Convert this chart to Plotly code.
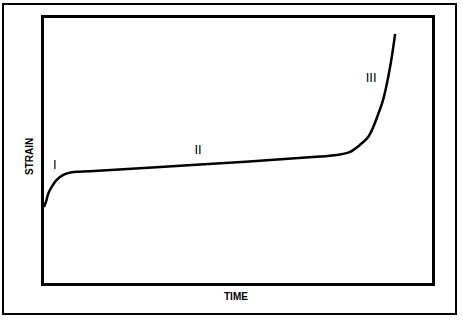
import plotly.graph_objects as go

# Points (time, strain) in percent of axis range
time = [0.0, 0.52, 1.11, 1.98, 3.27, 4.97, 7.14, 9.28, 11.86, 40.2, 71.1,
        75.4, 78.9, 81.4, 83.6, 84.9, 86.2, 87.4, 89.2, 90.5]
strain = [28.7, 30.7, 33.8, 36.3, 38.9, 40.8, 41.8, 42.0, 42.2, 44.7, 47.7,
          48.3, 49.5, 52.1, 55.2, 59.0, 64.0, 69.1, 81.5, 94.0]

stage_labels = ["I", "II", "III"]
stage_x = [2.8, 39.7, 84.3]
stage_y = [44.2, 49.8, 77.0]

fig = go.Figure()
fig.add_trace(go.Scatter(
    x=time, y=strain, mode="lines",
    line=dict(color="black", width=2.5, shape="spline", smoothing=1.0),
    hoverinfo="skip", showlegend=False,
))
fig.add_trace(go.Scatter(
    x=stage_x, y=stage_y, mode="text", text=stage_labels,
    textfont=dict(family="Liberation Sans", size=13, color="black"),
    hoverinfo="skip", showlegend=False,
))

axis_common = dict(
    showgrid=False, zeroline=False, showticklabels=False, ticks="",
    showline=True, linecolor="black", linewidth=3, mirror=True,
    range=[0, 100], fixedrange=True,
)
fig.update_xaxes(**axis_common)
fig.update_yaxes(**axis_common)

fig.update_layout(
    width=463, height=320,
    margin=dict(l=44, r=31, t=18, b=37),
    plot_bgcolor="white", paper_bgcolor="white",
    shapes=[dict(type="rect", xref="paper", yref="paper",
                 x0=-41/388, x1=(456-44)/388, y0=-(314-283)/265, y1=(283-4)/265,
                 line=dict(color="black", width=2))],
    annotations=[
        dict(text="<b>TIME</b>", xref="paper", yref="paper", x=(236-44)/388, y=-(296-283)/265,
             showarrow=False, font=dict(family="Liberation Sans", size=10, color="black"),
             xanchor="center", yanchor="middle"),
        dict(text="<b>STRAIN</b>", xref="paper", yref="paper", x=-(44-29)/388, y=(283-157)/265,
             showarrow=False, textangle=-90,
             font=dict(family="Liberation Sans", size=10, color="black"),
             xanchor="center", yanchor="middle"),
    ],
)

fig.write_html("out.html", config={"displayModeBar": False})
